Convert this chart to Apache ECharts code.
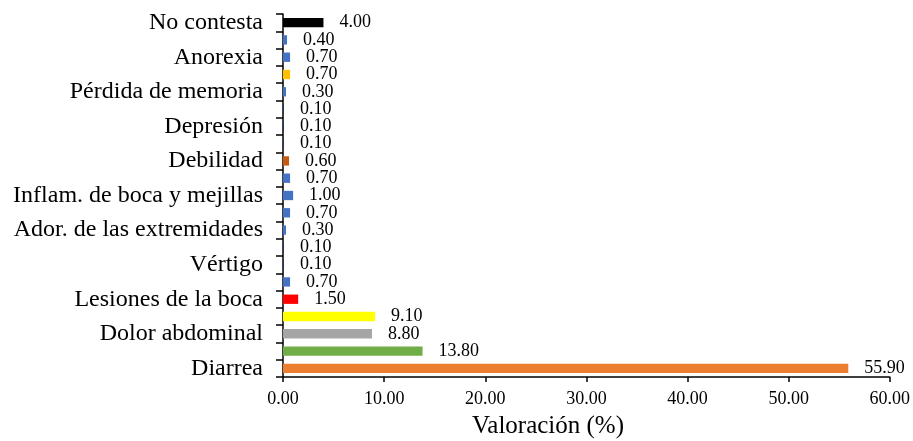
<!DOCTYPE html>
<html>
<head>
<meta charset="utf-8">
<script src="https://cdn.jsdelivr.net/npm/echarts@6/dist/echarts.min.js"></script>
<style>
  html, body { margin: 0; padding: 0; background: #fff; }
  #chart { width: 913px; height: 441px; }
</style>
</head>
<body>
<div id="chart"></div>
<script>
// Symptom categories, bottom to top; unnamed rows carry no axis label
const categories = [
  'Diarrea', '', 'Dolor abdominal', '', 'Lesiones de la boca', '',
  'Vértigo', '', 'Ador. de las extremidades', '', 'Inflam. de boca y mejillas', '',
  'Debilidad', '', 'Depresión', '', 'Pérdida de memoria', '',
  'Anorexia', '', 'No contesta'
];

// Percentage for each row
const values = [
  55.9, 13.8, 8.8, 9.1, 1.5, 0.7,
  0.1, 0.1, 0.3, 0.7, 1.0, 0.7,
  0.6, 0.1, 0.1, 0.1, 0.3, 0.7,
  0.7, 0.4, 4.0
];

// Fill colour for each row
const barColors = [
  '#ED7D31', '#70AD47', '#A5A5A5', '#FFFF00', '#FF0000', '#4472C4',
  '#1F3864', '#1F3864', '#4472C4', '#4472C4', '#4472C4', '#4472C4',
  '#C55A11', '#1F3864', '#1F3864', '#1F3864', '#4472C4', '#FFC000',
  '#4472C4', '#4472C4', '#000000'
];

// Value axis ticks
const xTicks = [0, 10, 20, 30, 40, 50, 60];

const serif = '"Liberation Serif", "Times New Roman", serif';

const chart = echarts.init(document.getElementById('chart'), null, { renderer: 'canvas' });

chart.setOption({
  animation: false,
  backgroundColor: '#ffffff',
  title: {
    text: 'Valoración (%)',
    left: 472,
    top: 414,
    padding: 0,
    textStyle: { fontFamily: serif, fontSize: 25, fontWeight: 'normal', color: '#000' }
  },
  grid: { left: 283, right: 22, top: 14, bottom: 64, containLabel: false },
  xAxis: {
    type: 'value',
    min: xTicks[0],
    max: xTicks[xTicks.length - 1],
    interval: xTicks[1] - xTicks[0],
    axisLine: { show: true, lineStyle: { color: '#000', width: 1.5 } },
    axisTick: { show: true, length: 5, lineStyle: { color: '#000', width: 1.5 } },
    splitLine: { show: false },
    axisLabel: {
      margin: 13,
      fontFamily: serif,
      fontSize: 18,
      color: '#000',
      formatter: v => v.toFixed(2)
    }
  },
  yAxis: {
    type: 'category',
    data: categories,
    axisLine: { show: true, lineStyle: { color: '#000', width: 1.5 } },
    axisTick: { show: true, length: 7, interval: 0, lineStyle: { color: '#000', width: 1.5 } },
    axisLabel: {
      interval: 0,
      margin: 20,
      fontFamily: serif,
      fontSize: 24,
      color: '#000'
    }
  },
  series: [{
    type: 'bar',
    barCategoryGap: '46%',
    data: values.map((v, i) => ({ value: v, itemStyle: { color: barColors[i] } })),
    label: {
      show: true,
      position: 'right',
      distance: 16,
      fontFamily: serif,
      fontSize: 18,
      color: '#000',
      formatter: p => p.value.toFixed(2)
    }
  }]
});
</script>
</body>
</html>
